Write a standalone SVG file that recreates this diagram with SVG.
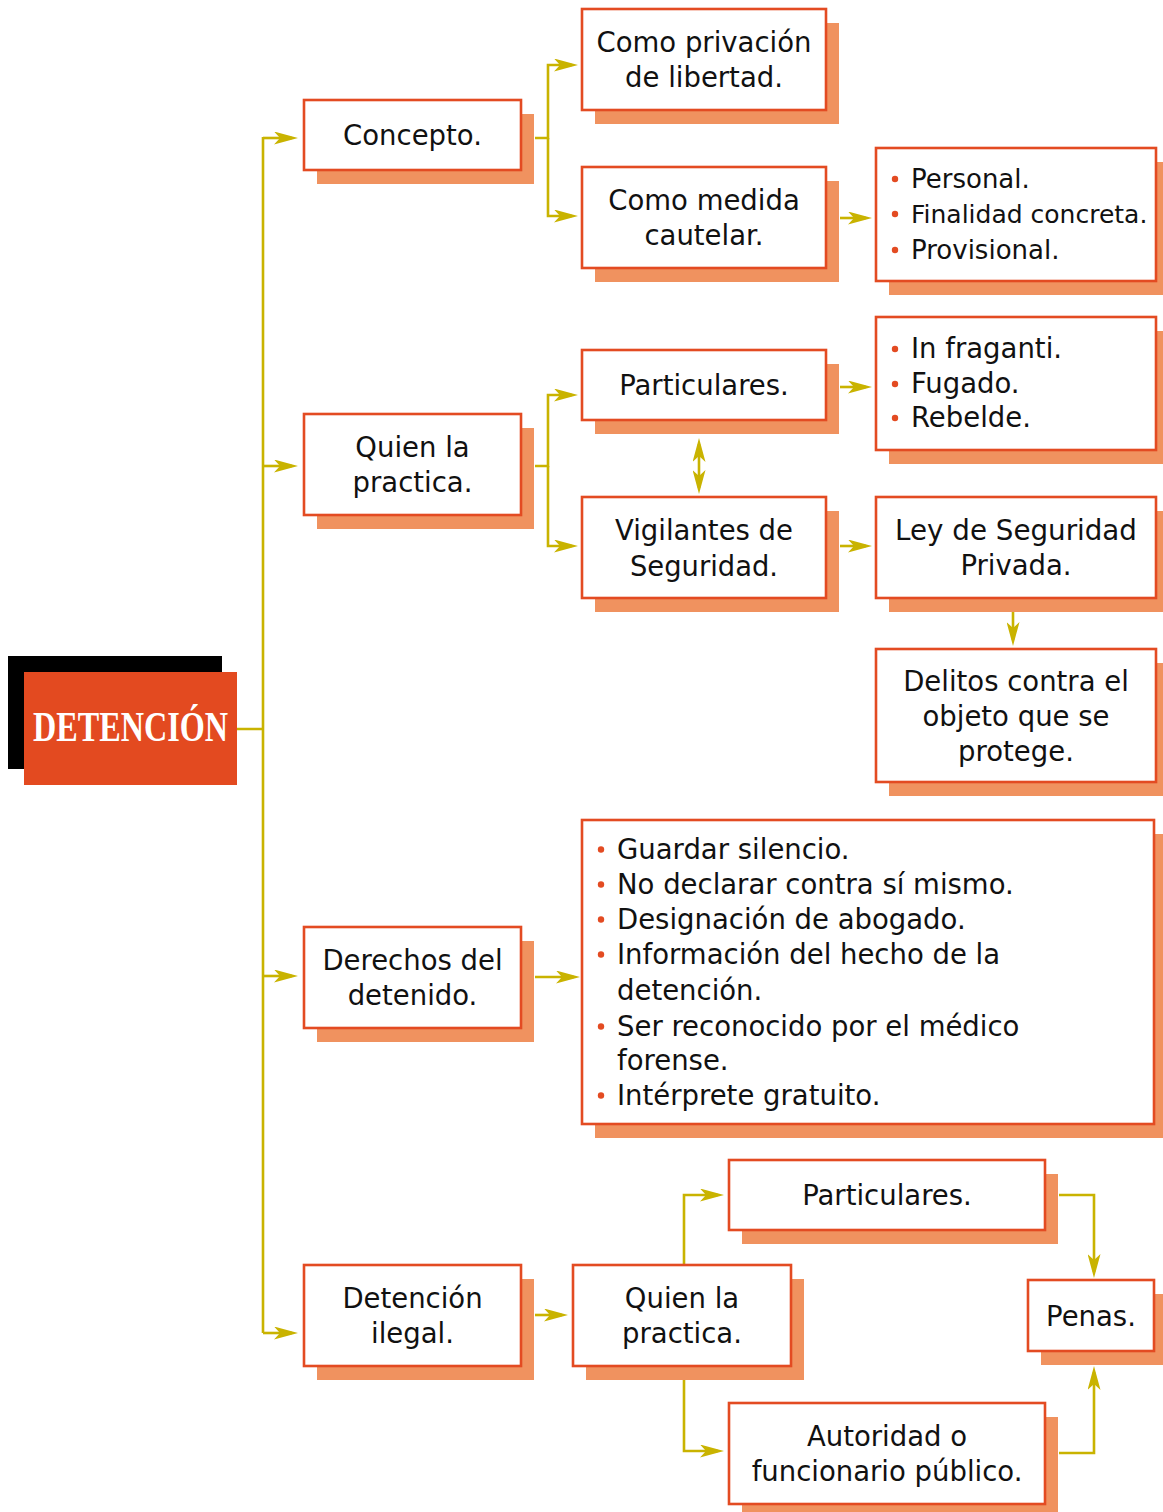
<svg xmlns="http://www.w3.org/2000/svg" width="1163" height="1512" viewBox="0 0 1163 1512">
<defs>
<style>
.sh{fill:#f0925f}
.bx{fill:#fff;stroke:#e34b22;stroke-width:2.6}
.t{font-family:"DejaVu Sans",sans-serif;font-size:27.5px;fill:#111;text-anchor:middle}
.l{font-family:"DejaVu Sans",sans-serif;font-size:27.5px;fill:#111}
.s{font-size:26px}
.b{fill:#e34b22}
.c{fill:none;stroke:#c9b300;stroke-width:2.6}
.a{marker-end:url(#ah)}
</style>
<marker id="ah" markerUnits="userSpaceOnUse" viewBox="0 0 24 13" refX="18" refY="6.5" markerWidth="24" markerHeight="13" orient="auto-start-reverse">
<path d="M0,0 L24,6.5 L0,13 L6,6.5 Z" fill="#c9b300"/>
</marker>
</defs>
<rect width="1163" height="1512" fill="#fff"/>

<g id="connectors">
<path class="c" d="M237,729 H263 M263,137 V1333"/>
<path class="c a" d="M263,138 H292"/>
<path class="c a" d="M263,466 H292"/>
<path class="c a" d="M263,976 H292"/>
<path class="c a" d="M263,1333 H292"/>
<path class="c a" d="M535,138 H548 V65 H572"/>
<path class="c a" d="M548,138 V216 H572"/>
<path class="c a" d="M840,218 H866"/>
<path class="c a" d="M535,466 H548 V395 H572"/>
<path class="c a" d="M548,466 V546 H572"/>
<path class="c a" d="M840,387 H866"/>
<path class="c" d="M699,444 V488" marker-start="url(#ah)" marker-end="url(#ah)"/>
<path class="c a" d="M840,546 H866"/>
<path class="c a" d="M1013,612 V640"/>
<path class="c a" d="M535,977 H574"/>
<path class="c a" d="M535,1315 H562"/>
<path class="c a" d="M684,1265 V1195 H718"/>
<path class="c a" d="M684,1380 V1451 H718"/>
<path class="c a" d="M1059,1195 H1094 V1272"/>
<path class="c a" d="M1059,1453 H1094 V1372"/>
</g>

<g id="detencion">
<rect x="8" y="656" width="214" height="113" fill="#000"/>
<rect x="24" y="672" width="213" height="113" fill="#e34a20"/>
<text x="130.5" y="741" font-family="Liberation Serif,serif" font-weight="bold" font-size="42" fill="#fff" text-anchor="middle" textLength="195" lengthAdjust="spacingAndGlyphs">DETENCIÓN</text>
</g>

<g id="concepto">
<rect class="sh" x="317" y="114" width="217" height="70"/>
<rect class="bx" x="304" y="100" width="217" height="70"/>
<text class="t" x="412.5" y="145">Concepto.</text>
</g>

<g id="quien1">
<rect class="sh" x="317" y="428" width="217" height="101"/>
<rect class="bx" x="304" y="414" width="217" height="101"/>
<text class="t" x="412.5" y="457">Quien la</text>
<text class="t" x="412.5" y="492">practica.</text>
</g>

<g id="derechos">
<rect class="sh" x="317" y="941" width="217" height="101"/>
<rect class="bx" x="304" y="927" width="217" height="101"/>
<text class="t" x="412.5" y="970">Derechos del</text>
<text class="t" x="412.5" y="1005">detenido.</text>
</g>

<g id="ilegal">
<rect class="sh" x="317" y="1279" width="217" height="101"/>
<rect class="bx" x="304" y="1265" width="217" height="101"/>
<text class="t" x="412.5" y="1308">Detención</text>
<text class="t" x="412.5" y="1343">ilegal.</text>
</g>

<g id="privacion">
<rect class="sh" x="595" y="23" width="244" height="101"/>
<rect class="bx" x="582" y="9" width="244" height="101"/>
<text class="t" x="704" y="52">Como privación</text>
<text class="t" x="704" y="87">de libertad.</text>
</g>

<g id="medida">
<rect class="sh" x="595" y="181" width="244" height="101"/>
<rect class="bx" x="582" y="167" width="244" height="101"/>
<text class="t" x="704" y="210">Como medida</text>
<text class="t" x="704" y="245">cautelar.</text>
</g>

<g id="particulares1">
<rect class="sh" x="595" y="364" width="244" height="70"/>
<rect class="bx" x="582" y="350" width="244" height="70"/>
<text class="t" x="704" y="395">Particulares.</text>
</g>

<g id="vigilantes">
<rect class="sh" x="595" y="511" width="244" height="101"/>
<rect class="bx" x="582" y="497" width="244" height="101"/>
<text class="t" x="704" y="540">Vigilantes de</text>
<text class="t" x="704" y="576" textLength="148" lengthAdjust="spacingAndGlyphs">Seguridad.</text>
</g>

<g id="caracteristicas">
<rect class="sh" x="889" y="162" width="280" height="133"/>
<rect class="bx" x="876" y="148" width="280" height="133"/>
<circle class="b" cx="895" cy="179" r="3.2"/>
<circle class="b" cx="895" cy="214" r="3.2"/>
<circle class="b" cx="895" cy="250" r="3.2"/>
<text class="l s" x="911" y="188">Personal.</text>
<text class="l" x="911" y="223" style="font-size:25px">Finalidad concreta.</text>
<text class="l s" x="911" y="259">Provisional.</text>
</g>

<g id="supuestos">
<rect class="sh" x="889" y="331" width="280" height="133"/>
<rect class="bx" x="876" y="317" width="280" height="133"/>
<circle class="b" cx="895" cy="349" r="3.2"/>
<circle class="b" cx="895" cy="384" r="3.2"/>
<circle class="b" cx="895" cy="418" r="3.2"/>
<text class="l" x="911" y="358">In fraganti.</text>
<text class="l" x="911" y="393">Fugado.</text>
<text class="l" x="911" y="427">Rebelde.</text>
</g>

<g id="ley">
<rect class="sh" x="889" y="511" width="280" height="101"/>
<rect class="bx" x="876" y="497" width="280" height="101"/>
<text class="t" x="1016" y="540" textLength="242" lengthAdjust="spacingAndGlyphs">Ley de Seguridad</text>
<text class="t" x="1016" y="575">Privada.</text>
</g>

<g id="delitos">
<rect class="sh" x="889" y="663" width="280" height="133"/>
<rect class="bx" x="876" y="649" width="280" height="133"/>
<text class="t" x="1016" y="691">Delitos contra el</text>
<text class="t" x="1016" y="726">objeto que se</text>
<text class="t" x="1016" y="761">protege.</text>
</g>

<g id="lista-derechos">
<rect class="sh" x="595" y="834" width="572" height="304"/>
<rect class="bx" x="582" y="820" width="572" height="304"/>
<circle class="b" cx="601" cy="849.5" r="3.2"/>
<circle class="b" cx="601" cy="884.5" r="3.2"/>
<circle class="b" cx="601" cy="919.5" r="3.2"/>
<circle class="b" cx="601" cy="954.5" r="3.2"/>
<circle class="b" cx="601" cy="1026.5" r="3.2"/>
<circle class="b" cx="601" cy="1095.5" r="3.2"/>
<text class="l" x="617" y="859">Guardar silencio.</text>
<text class="l" x="617" y="894">No declarar contra sí mismo.</text>
<text class="l" x="617" y="929">Designación de abogado.</text>
<text class="l" x="617" y="964">Información del hecho de la</text>
<text class="l" x="617" y="1000">detención.</text>
<text class="l" x="617" y="1036">Ser reconocido por el médico</text>
<text class="l" x="617" y="1070">forense.</text>
<text class="l" x="617" y="1105">Intérprete gratuito.</text>
</g>

<g id="particulares2">
<rect class="sh" x="742" y="1174" width="316" height="70"/>
<rect class="bx" x="729" y="1160" width="316" height="70"/>
<text class="t" x="887" y="1205">Particulares.</text>
</g>

<g id="quien2">
<rect class="sh" x="586" y="1279" width="218" height="101"/>
<rect class="bx" x="573" y="1265" width="218" height="101"/>
<text class="t" x="682" y="1308">Quien la</text>
<text class="t" x="682" y="1343">practica.</text>
</g>

<g id="autoridad">
<rect class="sh" x="742" y="1417" width="316" height="101"/>
<rect class="bx" x="729" y="1403" width="316" height="101"/>
<text class="t" x="887" y="1446">Autoridad o</text>
<text class="t" x="887" y="1481">funcionario público.</text>
</g>

<g id="penas">
<rect class="sh" x="1041" y="1294" width="126" height="71"/>
<rect class="bx" x="1028" y="1280" width="126" height="71"/>
<text class="t" x="1091" y="1326">Penas.</text>
</g>
</svg>
